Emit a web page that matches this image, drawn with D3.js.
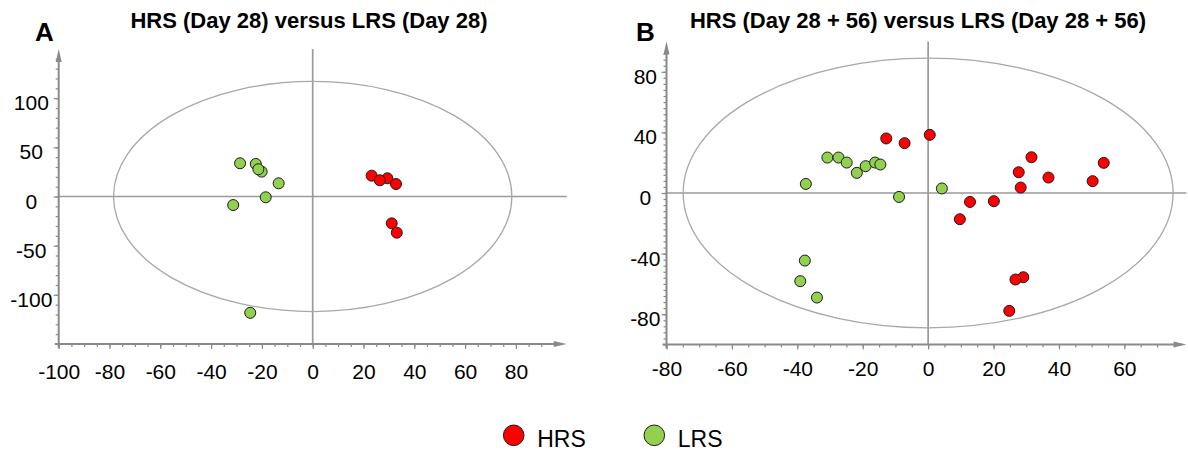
<!DOCTYPE html>
<html>
<head>
<meta charset="utf-8">
<script src="https://cdn.jsdelivr.net/npm/d3@7"></script>
<style>
  body { margin: 0; background: #fff; }
  svg { display: block; }
</style>
</head>
<body>
<svg id="chart" width="1188" height="452"></svg>
<script>
// Score scatter plots with Hotelling T2 ellipse, two group comparisons.

const groups = ["HRS", "LRS"];
const groupColors = ["#ff0000", "#92d050"];

// Panel A: Day 28
const titleA = "HRS (Day 28) versus LRS (Day 28)";
const hrsA = [[23.2, 21.2], [29.4, 18.5], [26.4, 16.5], [32.8, 12.7], [31.1, -27.3], [33.1, -36.8]];
const lrsA = [[-28.6, 33.8], [-22.4, 33.1], [-20.1, 25.3], [-21.4, 27.7], [-13.4, 13.4],
              [-18.5, -0.8], [-31.3, -8.7], [-24.6, -118.3]];
const xTicksA = [-100, -80, -60, -40, -20, 0, 20, 40, 60, 80];
const yTicksA = [-100, -50, 0, 50, 100];
const ellipseA = [78.4, 117];

// Panel B: Day 28 + 56
const titleB = "HRS (Day 28 + 56) versus LRS (Day 28 + 56)";
const hrsB = [[-12.8, 36.0], [-7.2, 32.9], [0.5, 38.4], [27.7, 13.7], [31.6, 23.6], [36.8, 10.2],
              [50.3, 7.8], [53.7, 19.9], [28.3, 3.6], [12.8, -5.9], [20.1, -5.4], [9.7, -17.3],
              [29.1, -55.6], [26.7, -57.1], [24.8, -77.8]];
const lrsB = [[-37.4, 6.0], [-30.8, 23.4], [-27.4, 23.4], [-24.9, 20.1], [-21.8, 13.3], [-19.1, 17.7],
              [-16.2, 20.1], [-14.6, 18.8], [-8.9, -2.6], [4.2, 3.0], [-37.7, -44.6], [-39.1, -58.2],
              [-34.0, -69.0]];
const xTicksB = [-80, -60, -40, -20, 0, 20, 40, 60];
const yTicksB = [-80, -40, 0, 40, 80];
const ellipseB = [74.9, 89];

const FONT = "'Liberation Sans', Arial, Helvetica, sans-serif";
const AXIS_GREY = "#8a8a8a";

const svg = d3.select("#chart");

const panels = [
  {
    letter: "A", title: titleA, series: [hrsA, lrsA], ellipse: ellipseA,
    xTicks: xTicksA, yTicks: yTicksA, xMinorStep: 5, yMinorStep: 10,
    x: d3.scaleLinear().domain([-100, 100]).range([58.7, 566.7]),
    y: d3.scaleLinear().domain([-150, 150]).range([344, 49]),
    titleX: 309, letterX: 35, yLabelX: 31.3, xLabelDy: 35
  },
  {
    letter: "B", title: titleB, series: [hrsB, lrsB], ellipse: ellipseB,
    xTicks: xTicksB, yTicks: yTicksB, xMinorStep: 5, yMinorStep: 4,
    x: d3.scaleLinear().domain([-80, 79]).range([666.5, 1186.5]),
    y: d3.scaleLinear().domain([-100, 100]).range([344.5, 41.5]),
    titleX: 918, letterX: 636, yLabelX: 645.3, xLabelDy: 31
  }
];

function range(lo, hi, step) {
  const out = [];
  for (let v = lo; v <= hi + 1e-9; v += step) out.push(+v.toFixed(6));
  return out;
}

const plainNumber = d => String(d);

panels.forEach(p => {
  const g = svg.append("g");
  const [x0, x1] = p.x.domain();
  const [y0, y1] = p.y.domain();
  const left = p.x(x0), right = p.x(x1), bottom = p.y(y0), top = p.y(y1);

  // titles
  g.append("text")
    .attr("x", p.titleX).attr("y", 28)
    .attr("text-anchor", "middle")
    .style("font-family", FONT).style("font-weight", "bold").style("font-size", "22px")
    .text(p.title);
  g.append("text")
    .attr("x", p.letterX).attr("y", 41)
    .style("font-family", FONT).style("font-weight", "bold").style("font-size", "26px")
    .text(p.letter);

  // zero lines
  g.append("line")
    .attr("x1", left).attr("x2", right).attr("y1", p.y(0)).attr("y2", p.y(0))
    .attr("stroke", "#9a9a9a").attr("stroke-width", 1.7);
  g.append("line")
    .attr("x1", p.x(0)).attr("x2", p.x(0)).attr("y1", top).attr("y2", bottom)
    .attr("stroke", "#9a9a9a").attr("stroke-width", 1.7);

  // Hotelling ellipse
  g.append("ellipse")
    .attr("cx", p.x(0)).attr("cy", p.y(0))
    .attr("rx", p.x(p.ellipse[0]) - p.x(0))
    .attr("ry", p.y(0) - p.y(p.ellipse[1]))
    .attr("fill", "none").attr("stroke", "#a8a8a8").attr("stroke-width", 1.3);

  // x axis: minor and major ticks (minor ticks stop short of the arrow head)
  const xMinor = range(Math.ceil(x0 / p.xMinorStep) * p.xMinorStep, x1 - 6, p.xMinorStep);
  const xAxisMinor = d3.axisBottom(p.x).tickValues(xMinor).tickSize(3).tickSizeOuter(0).tickFormat("");
  const xAxisMajor = d3.axisBottom(p.x).tickValues(p.xTicks).tickSize(5).tickSizeOuter(0).tickFormat(plainNumber);
  [xAxisMinor, xAxisMajor].forEach((ax, i) => {
    const a = g.append("g").attr("transform", `translate(0,${bottom})`).call(ax);
    a.select(".domain").remove();
    a.selectAll("line").attr("stroke", AXIS_GREY).attr("stroke-width", 1.2);
    if (i === 1) {
      a.selectAll("text")
        .attr("y", p.xLabelDy).attr("dy", 0)
        .attr("fill", "#000")
        .style("font-family", FONT).style("font-size", "21px");
    }
  });

  // y axis: minor and major ticks
  const yMinor = range(y0, y1 - 8, p.yMinorStep);
  const yAxisMinor = d3.axisLeft(p.y).tickValues(yMinor).tickSize(3).tickSizeOuter(0).tickFormat("");
  const yAxisMajor = d3.axisLeft(p.y).tickValues(p.yTicks).tickSize(5).tickSizeOuter(0).tickFormat(plainNumber);
  [yAxisMinor, yAxisMajor].forEach((ax, i) => {
    const a = g.append("g").attr("transform", `translate(${left},0)`).call(ax);
    a.select(".domain").remove();
    a.selectAll("line").attr("stroke", AXIS_GREY).attr("stroke-width", 1.2);
    if (i === 1) {
      a.selectAll("text")
        .attr("x", p.yLabelX - left).attr("dy", "0.55em")
        .attr("text-anchor", "middle")
        .attr("fill", "#000")
        .style("font-family", FONT).style("font-size", "21px");
    }
  });

  // axis lines with arrow heads
  g.append("line")
    .attr("x1", left - 4).attr("x2", right - 10).attr("y1", bottom).attr("y2", bottom)
    .attr("stroke", AXIS_GREY).attr("stroke-width", 2);
  g.append("path")
    .attr("d", `M${right},${bottom} L${right - 13},${bottom - 3} L${right - 13},${bottom + 3} Z`)
    .attr("fill", AXIS_GREY);
  g.append("line")
    .attr("x1", left).attr("x2", left).attr("y1", bottom + 4).attr("y2", top + 10)
    .attr("stroke", AXIS_GREY).attr("stroke-width", 2);
  g.append("path")
    .attr("d", `M${left},${top} L${left - 3},${top + 13} L${left + 3},${top + 13} Z`)
    .attr("fill", AXIS_GREY);

  // observations
  p.series.forEach((pts, si) => {
    g.append("g").selectAll("circle")
      .data(pts)
      .join("circle")
      .attr("cx", d => p.x(d[0]))
      .attr("cy", d => p.y(d[1]))
      .attr("r", 5.5)
      .attr("fill", groupColors[si])
      .attr("stroke", "#1a1a1a").attr("stroke-width", 1);
  });
});

// legend
const legendX = [513.7, 654.3];
const legend = svg.append("g");
groups.forEach((name, i) => {
  legend.append("circle")
    .attr("cx", legendX[i]).attr("cy", 435.3).attr("r", 10.3)
    .attr("fill", groupColors[i]).attr("stroke", "#1a1a1a").attr("stroke-width", 1);
  legend.append("text")
    .attr("x", legendX[i] + 23.5).attr("y", 446.5)
    .style("font-family", FONT).style("font-size", "23px")
    .text(name);
});
</script>
</body>
</html>
